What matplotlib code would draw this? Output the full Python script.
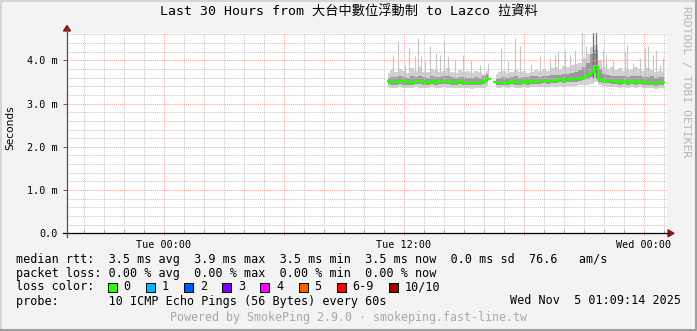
import numpy as np
import matplotlib
matplotlib.use('Agg')
import matplotlib.pyplot as plt
from matplotlib.lines import Line2D
from matplotlib.patches import Polygon, Rectangle

W, H = 697, 331

# sample times: hours after Tue 00:00, one sample every 12 minutes
t_start, t_step = 11.2, 0.2
nan = np.nan

median_ms = [3.52, 3.50, 3.51, 3.53, 3.52, 3.50, 3.51, 3.52, 3.53, 3.51, 3.50, 3.52, 3.51,
             3.52, 3.53, 3.52, 3.51, 3.50, 3.52, 3.51, 3.50, 3.49, 3.51, 3.50, 3.53, 3.58,
             nan,
             3.49, 3.50, 3.51, 3.50, 3.52, 3.51, 3.50, 3.52, 3.51, 3.52, 3.53, 3.52, 3.54,
             3.53, 3.55, 3.54, 3.56, 3.55, 3.57, 3.56, 3.58, 3.60, 3.62, 3.66, 3.72, 3.87,
             3.58, 3.55, 3.54, 3.52, 3.53, 3.51, 3.52, 3.50, 3.53, 3.51, 3.52, 3.50, 3.49,
             3.51, 3.48, 3.50, 3.49]

light_lo = [3.38, 3.36, 3.37, 3.38, 3.37, 3.36, 3.37, 3.38, 3.37, 3.36, 3.37, 3.38, 3.36,
            3.37, 3.38, 3.37, 3.36, 3.35, 3.37, 3.36, 3.35, 3.34, 3.36, 3.35, 3.37, 3.40,
            nan,
            3.36, 3.37, 3.38, 3.37, 3.38, 3.37, 3.36, 3.38, 3.37, 3.38, 3.39, 3.38, 3.39,
            3.38, 3.40, 3.39, 3.40, 3.39, 3.40, 3.40, 3.41, 3.42, 3.43, 3.44, 3.46, 3.50,
            3.42, 3.40, 3.39, 3.38, 3.39, 3.37, 3.38, 3.36, 3.38, 3.37, 3.38, 3.36, 3.35,
            3.37, 3.34, 3.36, 3.35]

light_hi = [3.70, 3.78, 3.72, 3.80, 3.75, 3.70, 3.82, 3.76, 3.85, 3.74, 3.72, 3.80, 3.78,
            3.73, 3.76, 3.82, 3.74, 3.70, 3.78, 3.72, 3.75, 3.70, 3.76, 3.72, 3.68, 3.75,
            nan,
            3.68, 3.72, 3.75, 3.70, 3.74, 3.78, 3.72, 3.76, 3.70, 3.74, 3.78, 3.75, 3.80,
            3.76, 3.82, 3.85, 3.80, 3.88, 3.84, 3.90, 3.92, 3.95, 4.05, 4.15, 4.30, 4.35,
            4.00, 3.85, 3.80, 3.84, 3.78, 3.82, 3.76, 3.80, 3.78, 3.84, 3.80, 3.76, 3.82,
            3.78, 3.74, 3.76, 3.72]

dark_lo = [3.45, 3.43, 3.44, 3.45, 3.44, 3.43, 3.44, 3.45, 3.46, 3.44, 3.43, 3.45, 3.44,
           3.45, 3.46, 3.45, 3.44, 3.43, 3.45, 3.44, 3.43, 3.42, 3.44, 3.43, 3.46, 3.50,
           nan,
           3.42, 3.43, 3.44, 3.43, 3.45, 3.44, 3.43, 3.45, 3.44, 3.45, 3.46, 3.45, 3.47,
           3.46, 3.48, 3.47, 3.49, 3.48, 3.50, 3.49, 3.51, 3.53, 3.55, 3.58, 3.62, 3.70,
           3.50, 3.48, 3.47, 3.45, 3.46, 3.44, 3.45, 3.43, 3.46, 3.44, 3.45, 3.43, 3.42,
           3.44, 3.41, 3.43, 3.42]

dark_hi = [3.60, 3.62, 3.61, 3.63, 3.62, 3.60, 3.63, 3.61, 3.64, 3.62, 3.60, 3.63, 3.62,
           3.61, 3.63, 3.64, 3.61, 3.60, 3.62, 3.61, 3.60, 3.59, 3.62, 3.60, 3.63, 3.68,
           nan,
           3.58, 3.60, 3.61, 3.60, 3.62, 3.63, 3.60, 3.62, 3.61, 3.63, 3.64, 3.62, 3.65,
           3.64, 3.66, 3.67, 3.66, 3.69, 3.68, 3.71, 3.74, 3.78, 3.85, 3.95, 4.15, 4.25,
           3.80, 3.68, 3.66, 3.64, 3.65, 3.63, 3.64, 3.62, 3.65, 3.63, 3.64, 3.62, 3.61,
           3.63, 3.60, 3.62, 3.61]

# single slow pings sticking out of the smoke
spike_h = [11.45, 11.70, 12.03, 12.25, 12.53, 12.70, 12.87, 13.03, 13.28, 13.62, 13.78,
           13.98, 14.20, 14.53, 14.95, 15.37, 15.78, 16.20, 16.87, 17.20, 17.53, 17.78,
           18.37, 18.78, 19.28, 19.53, 19.70, 20.03, 20.28, 20.53, 20.92, 21.12, 21.28,
           21.95, 22.12, 22.45, 23.03, 23.15, 23.45, 23.78, 24.03, 24.20, 24.45, 24.62,
           24.82, 24.95]
spike_top = [4.13, 4.44, 3.90, 4.29, 4.10, 4.52, 4.10, 3.98, 4.33, 4.17, 4.13,
             4.44, 4.10, 4.02, 4.13, 4.02, 3.90, 3.94, 4.29, 3.98, 4.52, 4.33,
             3.90, 4.10, 4.06, 4.13, 4.21, 4.25, 4.13, 4.25, 4.70, 4.33, 4.29,
             4.25, 4.13, 4.02, 4.21, 4.36, 3.94, 4.06, 4.29, 4.33, 4.13, 4.25,
             3.90, 4.06]
dark_spike_h = [21.45, 21.58]
dark_spike_top = [4.70, 4.70]

x_ticks = [0, 6, 12, 18, 24]
x_labels = ['Tue 00:00', '', 'Tue 12:00', '', 'Wed 00:00']
y_ticks = [0, 1, 2, 3, 4]
y_labels = ['0.0', '1.0 m', '2.0 m', '3.0 m', '4.0 m']

loss_labels = ['0', '1', '2', '3', '4', '5', '6-9', '10/10']
loss_colors = ['#26ff00', '#00b8ff', '#0059ff', '#7e00ff', '#ff00ff', '#ff5e00', '#ff0000', '#a10000']

title = 'Last 30 Hours from 大台中數位浮動制 to Lazco 拉資料'
rtt_line = 'median rtt:  3.5 ms avg  3.9 ms max  3.5 ms min  3.5 ms now  0.0 ms sd  76.6   am/s'
loss_line = 'packet loss: 0.00 % avg  0.00 % max  0.00 % min  0.00 % now'
probe_line = 'probe:       10 ICMP Echo Pings (56 Bytes) every 60s'
stamp = 'Wed Nov  5 01:09:14 2025'
footer = 'Powered by SmokePing 2.9.0 · smokeping.fast-line.tw'

MONO = 'DejaVu Sans Mono'
BG = '#f3f3f3'
ARROW = '#8b1a1a'


def px(x):
    return x / W


def py(y):
    return 1 - y / H


fig = plt.figure(figsize=(W / 100, H / 100), dpi=100, facecolor=BG)
ax = fig.add_axes([px(67), py(233.3), px(600), 200.6 / H])
ax.set_facecolor('white')

hours = t_start + t_step * np.arange(len(median_ms))

# smoke
ax.fill_between(hours, light_lo, light_hi, step='mid', color='#d2d2d2', lw=0, zorder=1)
ax.vlines(spike_h, 3.6, spike_top, colors='#c6c6c6', lw=0.8, zorder=1)
ax.fill_between(hours, dark_lo, dark_hi, step='mid', color='#9a9a9a', lw=0, zorder=2)
ax.vlines(dark_spike_h, 3.6, dark_spike_top, colors='#6a6a6a', lw=0.9, zorder=2)
ax.plot(hours, median_ms, drawstyle='steps-mid', color='#26ff00', lw=1.6, zorder=5)

ax.set_xlim(-4.85, 25.15)
ax.set_ylim(0, 4.64)

ax.set_xticks(x_ticks)
ax.set_xticklabels(x_labels)
ax.set_xticks(np.arange(-4, 26, 1), minor=True)
ax.set_yticks(y_ticks)
ax.set_yticklabels(y_labels)
ax.set_yticks(np.arange(0, 4.7, 0.2), minor=True)

ax.grid(which='minor', color='#c4c4c4', lw=0.7, linestyle=(0, (1, 1)), zorder=3)
ax.grid(which='major', color='#eea0a0', lw=0.7, linestyle=(0, (1, 1)), zorder=3)
ax.set_axisbelow(False)

for s in ax.spines.values():
    s.set_visible(False)
ax.tick_params(which='major', length=3, width=0.7, color='#e08080', direction='inout',
               labelsize=7.3, pad=3)
ax.tick_params(which='minor', length=2, width=0.7, color='#a0a0a0', direction='in')
ax.tick_params(axis='y', which='minor', length=0)
ax.tick_params(axis='y', which='major', color='#606060', direction='out', pad=4)
for lab in ax.get_xticklabels() + ax.get_yticklabels():
    lab.set_family(MONO)

# axis lines with arrows
fig.add_artist(Line2D([px(63), px(669)], [py(233.3), py(233.3)], color='black', lw=0.9))
fig.add_artist(Line2D([px(67), px(67)], [py(237), py(30)], color='#505050', lw=0.9))
fig.add_artist(Polygon([[px(668), py(229.8)], [px(668), py(236.8)], [px(674), py(233.3)]],
                       closed=True, color=ARROW, transform=fig.transFigure))
fig.add_artist(Polygon([[px(63.5), py(31)], [px(70.5), py(31)], [px(67), py(25.5)]],
                       closed=True, color=ARROW, transform=fig.transFigure))

fig.text(px(10), py(128), 'Seconds', rotation=90, ha='center', va='center', fontsize=7.6,
         family='DejaVu Sans')
fig.text(0.5, py(12), title, ha='center', va='center', fontsize=9.5,
         family=[MONO, 'Noto Sans CJK TC'])
fig.text(px(686), py(82), 'RRDTOOL / TOBI OETIKER', rotation=270, ha='center', va='center',
         fontsize=8.2, family=MONO, color='#b4b4b4')

# legend block
fs = 8.5
fig.text(px(16), py(259), rtt_line, ha='left', va='center', fontsize=fs, family=MONO)
fig.text(px(16), py(273), loss_line, ha='left', va='center', fontsize=fs, family=MONO)
fig.text(px(16), py(287), 'loss color:', ha='left', va='center', fontsize=fs, family=MONO)
fig.text(px(16), py(301), probe_line, ha='left', va='center', fontsize=fs, family=MONO)
fig.text(px(681), py(301), stamp, ha='right', va='center', fontsize=fs, family=MONO)
fig.text(0.5, py(317), footer, ha='center', va='center', fontsize=8.4, family=MONO,
         color='#a8a8a8')

bx = 108
for lab, col in zip(loss_labels, loss_colors):
    fig.add_artist(Rectangle((px(bx), py(291.5)), px(9), 9 / H, facecolor=col,
                             edgecolor='black', lw=0.7, transform=fig.transFigure))
    fig.text(px(bx + 15.5), py(287), lab, ha='left', va='center', fontsize=fs, family=MONO)
    bx = bx + 15.5 + 7.12 * len(lab) + 15.5

# frame shading
fig.add_artist(Line2D([px(0.5), px(0.5), px(696)], [py(331), py(0.5), py(0.5)],
                      color='#d0d0d0', lw=1.2))
fig.add_artist(Line2D([px(0.5), px(696), px(696)], [py(330), py(330), py(0.5)],
                      color='#9e9e9e', lw=1.5))

fig.savefig('out.png', dpi=100, facecolor=BG)
